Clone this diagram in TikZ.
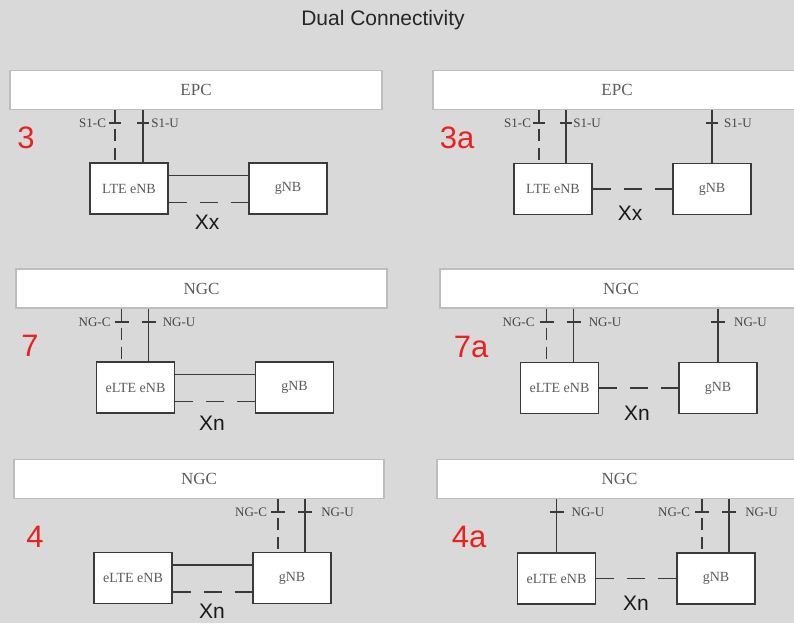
\documentclass[tikz,border=0pt]{standalone}
\usepackage{fontspec}
\setmainfont{Liberation Serif}
\setsansfont{Liberation Sans}
\definecolor{bg}{HTML}{D9D9D9}
\definecolor{corebd}{HTML}{BDBDBD}
\definecolor{nodebd}{HTML}{3A3A3A}
\definecolor{linec}{HTML}{3A3A3A}
\definecolor{txt}{HTML}{5C5C5C}
\definecolor{lblc}{HTML}{454545}
\definecolor{numred}{HTML}{E8231F}
\begin{document}
\begin{tikzpicture}[x=1pt,y=-1pt,
  core/.style={draw=corebd,line width=1.2pt,fill=white,minimum height=39pt,inner sep=0pt,font=\fontsize{17}{17}\selectfont,text=txt},
  nb/.style={draw=nodebd,line width=1.7pt,fill=white,minimum width=78pt,minimum height=51pt,inner sep=0pt,font=\fontsize{14}{14}\selectfont,text=txt},
  ln/.style={draw=linec,line width=1.6pt},
  hd/.style={ln,dash pattern=on 18pt off 13pt},
  vd/.style={ln,dash pattern=on 12pt off 7pt},
  lbl/.style={font=\fontsize{13}{13}\selectfont,text=lblc,inner sep=0pt},
  num/.style={font=\sffamily\fontsize{31}{31}\selectfont,text=numred,inner sep=0pt},
  xl/.style={font=\sffamily\fontsize{21}{21}\selectfont,text=black!90,inner sep=0pt}]
\fill[bg] (0,0) rectangle (794,623);
\useasboundingbox (0,0) rectangle (794,623);
\clip (0,0) rectangle (794,623);

\node[font=\sffamily\fontsize{21}{21}\selectfont,text=black!85,inner sep=0pt] (title) at (383,20) {Dual Connectivity};

% ---------- Panel 3 ----------
\node[core,minimum width=372pt] (epc3) at (196,90) {EPC};
\node[nb] (enb3) at (129,188.5) {LTE eNB};
\node[nb] (gnb3) at (288,188.5) {gNB};
\node[num] (n3) at (26,138) {3};
\coordinate (c3c) at ([xshift=26pt]enb3.north west);
\coordinate (c3u) at ([xshift=54pt]enb3.north west);
\coordinate (t3) at (0,123);
\draw[vd] (c3c |- epc3.south) -- (c3c);
\draw[ln] (c3u |- epc3.south) -- (c3u);
\draw[ln] (c3c |- t3) ++(-6,0) -- ++(12,0);
\draw[ln] (c3u |- t3) ++(-6,0) -- ++(12,0);
\path (c3c |- t3) ++(-9,0) node[lbl,anchor=east] {S1-C};
\path (c3u |- t3) ++(8,0) node[lbl,anchor=west] {S1-U};
\draw[ln] ([yshift=13pt]enb3.east) -- ([yshift=13pt]gnb3.west);
\draw[hd] ([yshift=-14pt]enb3.east) -- ([yshift=-14pt]gnb3.west);
\node[xl] (x3) at (207,222) {Xx};

% ---------- Panel 3a ----------
\node[core,minimum width=368pt] (epc3a) at (617,90) {EPC};
\node[nb] (enb3a) at (553,189) {LTE eNB};
\node[nb] (gnb3a) at (712,189) {gNB};
\node[num] (n3a) at (457,138) {3a};
\coordinate (c3ac) at ([xshift=26pt]enb3a.north west);
\coordinate (c3au) at ([xshift=53pt]enb3a.north west);
\coordinate (t3a) at (0,123);
\draw[vd] (c3ac |- epc3a.south) -- (c3ac);
\draw[ln] (c3au |- epc3a.south) -- (c3au);
\draw[ln] (gnb3a.north |- epc3a.south) -- (gnb3a.north);
\draw[ln] (c3ac |- t3a) ++(-6,0) -- ++(12,0);
\draw[ln] (c3au |- t3a) ++(-6,0) -- ++(12,0);
\draw[ln] (gnb3a.north |- t3a) ++(-6,0) -- ++(12,0);
\path (c3ac |- t3a) ++(-8,0) node[lbl,anchor=east] {S1-C};
\path (c3au |- t3a) ++(7,0) node[lbl,anchor=west] {S1-U};
\path (gnb3a.north |- t3a) ++(12,0) node[lbl,anchor=west] {S1-U};
\draw[hd] (enb3a.east) -- (gnb3a.west);
\node[xl] (x3a) at (630,213) {Xx};

% ---------- Panel 7 ----------
\node[core,minimum width=371pt] (ngc7) at (201.5,288.5) {NGC};
\node[nb] (enb7) at (135.5,387.5) {eLTE eNB};
\node[nb] (gnb7) at (294.5,387.5) {gNB};
\node[num] (n7) at (30,346) {7};
\coordinate (c7c) at ([xshift=26pt]enb7.north west);
\coordinate (c7u) at ([xshift=53pt]enb7.north west);
\coordinate (t7) at (0,322);
\draw[vd] (c7c |- ngc7.south) -- (c7c);
\draw[ln] (c7u |- ngc7.south) -- (c7u);
\draw[ln] (c7c |- t7) ++(-7,0) -- ++(14,0);
\draw[ln] (c7u |- t7) ++(-7,0) -- ++(14,0);
\path (c7c |- t7) ++(-11,0) node[lbl,anchor=east] {NG-C};
\path (c7u |- t7) ++(14,0) node[lbl,anchor=west] {NG-U};
\draw[ln] ([yshift=13pt]enb7.east) -- ([yshift=13pt]gnb7.west);
\draw[hd] ([yshift=-14pt]enb7.east) -- ([yshift=-14pt]gnb7.west);
\node[xl] (x7) at (212,423) {Xn};

% ---------- Panel 7a ----------
\node[core,minimum width=362pt] (ngc7a) at (621,288.5) {NGC};
\node[nb] (enb7a) at (559.5,388) {eLTE eNB};
\node[nb] (gnb7a) at (718,388) {gNB};
\node[num] (n7a) at (471,347) {7a};
\coordinate (c7ac) at ([xshift=27pt]enb7a.north west);
\coordinate (c7au) at ([xshift=54pt]enb7a.north west);
\coordinate (t7a) at (0,322);
\draw[vd] (c7ac |- ngc7a.south) -- (c7ac);
\draw[ln] (c7au |- ngc7a.south) -- (c7au);
\draw[ln] (gnb7a.north |- ngc7a.south) -- (gnb7a.north);
\draw[ln] (c7ac |- t7a) ++(-7,0) -- ++(14,0);
\draw[ln] (c7au |- t7a) ++(-7,0) -- ++(14,0);
\draw[ln] (gnb7a.north |- t7a) ++(-7,0) -- ++(14,0);
\path (c7ac |- t7a) ++(-12,0) node[lbl,anchor=east] {NG-C};
\path (c7au |- t7a) ++(15,0) node[lbl,anchor=west] {NG-U};
\path (gnb7a.north |- t7a) ++(16,0) node[lbl,anchor=west] {NG-U};
\draw[hd] (enb7a.east) -- (gnb7a.west);
\node[xl] (x7a) at (637,413) {Xn};

% ---------- Panel 4 ----------
\node[core,minimum width=370pt] (ngc4) at (199,479) {NGC};
\node[nb] (enb4) at (133,578) {eLTE eNB};
\node[nb] (gnb4) at (292,578) {gNB};
\node[num] (n4) at (35,537) {4};
\coordinate (c4c) at ([xshift=26pt]gnb4.north west);
\coordinate (c4u) at ([xshift=53pt]gnb4.north west);
\coordinate (t4) at (0,512);
\draw[vd] (c4c |- ngc4.south) -- (c4c);
\draw[ln] (c4u |- ngc4.south) -- (c4u);
\draw[ln] (c4c |- t4) ++(-7,0) -- ++(14,0);
\draw[ln] (c4u |- t4) ++(-7,0) -- ++(14,0);
\path (c4c |- t4) ++(-11,0) node[lbl,anchor=east] {NG-C};
\path (c4u |- t4) ++(16,0) node[lbl,anchor=west] {NG-U};
\draw[ln] ([yshift=13pt]enb4.east) -- ([yshift=13pt]gnb4.west);
\draw[hd] ([yshift=-14pt]enb4.east) -- ([yshift=-14pt]gnb4.west);
\node[xl] (x4) at (212,611) {Xn};

% ---------- Panel 4a ----------
\node[core,minimum width=365pt] (ngc4a) at (619.5,479) {NGC};
\node[nb] (enb4a) at (556.5,578.5) {eLTE eNB};
\node[nb] (gnb4a) at (716,578.5) {gNB};
\node[num] (n4a) at (469,537) {4a};
\coordinate (c4ac) at ([xshift=26pt]gnb4a.north west);
\coordinate (c4au) at ([xshift=53pt]gnb4a.north west);
\coordinate (t4a) at (0,512);
\draw[ln] (enb4a.north |- ngc4a.south) -- (enb4a.north);
\draw[vd] (c4ac |- ngc4a.south) -- (c4ac);
\draw[ln] (c4au |- ngc4a.south) -- (c4au);
\draw[ln] (enb4a.north |- t4a) ++(-7,0) -- ++(14,0);
\draw[ln] (c4ac |- t4a) ++(-7,0) -- ++(14,0);
\draw[ln] (c4au |- t4a) ++(-7,0) -- ++(14,0);
\path (enb4a.north |- t4a) ++(15,0) node[lbl,anchor=west] {NG-U};
\path (c4ac |- t4a) ++(-12,0) node[lbl,anchor=east] {NG-C};
\path (c4au |- t4a) ++(16,0) node[lbl,anchor=west] {NG-U};
\draw[hd] (enb4a.east) -- (gnb4a.west);
\node[xl] (x4a) at (636,603) {Xn};
\end{tikzpicture}
\end{document}
